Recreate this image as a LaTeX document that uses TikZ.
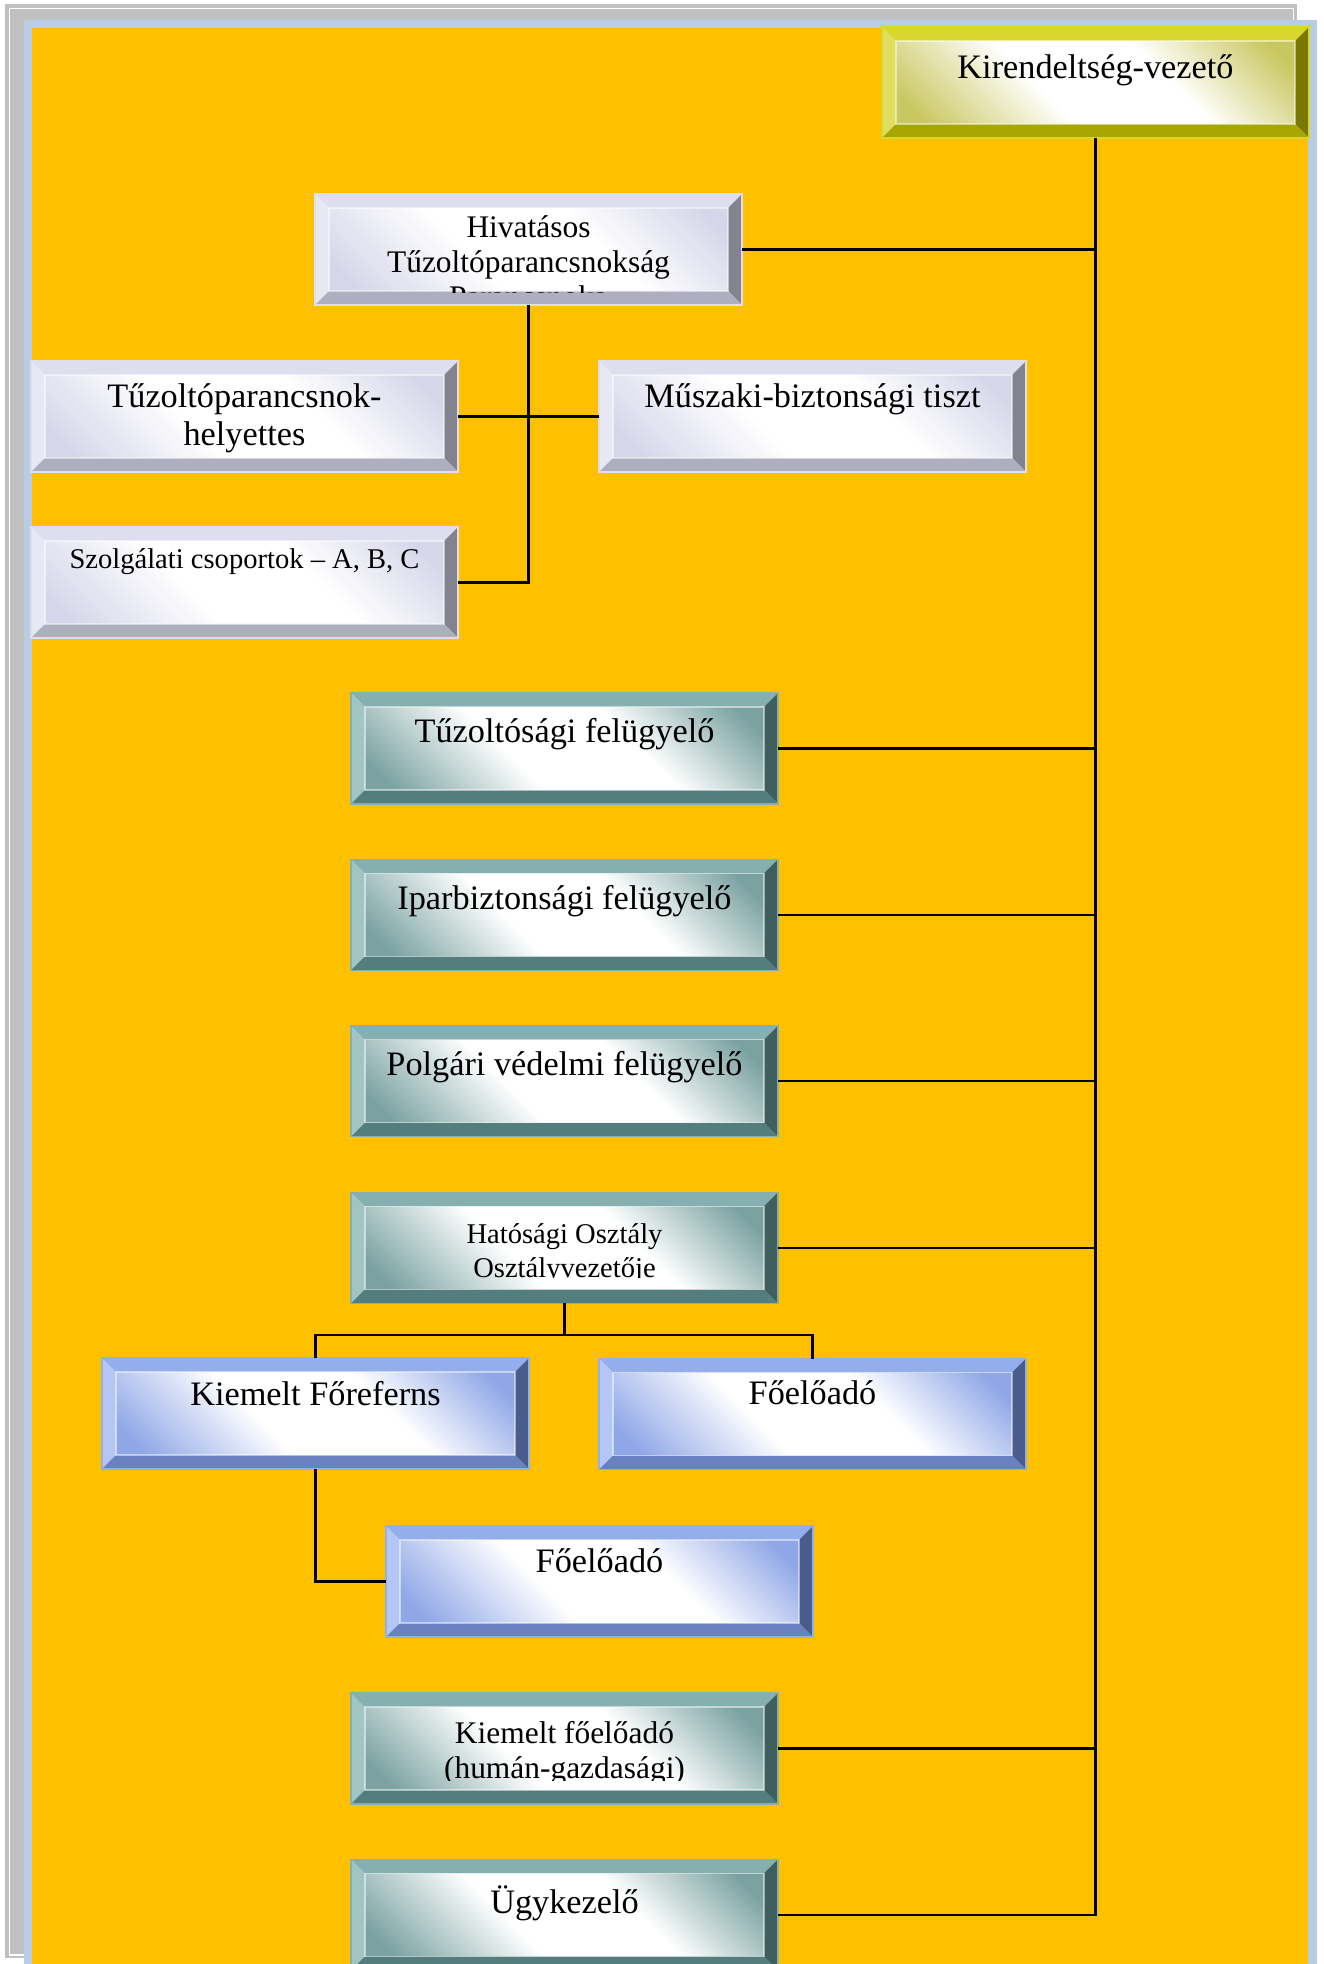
\documentclass[tikz,border=0pt]{standalone}
\usepackage{fontspec}
\setmainfont{Liberation Serif}
\usepackage{tikz}
\usetikzlibrary{positioning,calc}
\definecolor{framegray}{RGB}{192,192,192}
\definecolor{frameblue}{RGB}{184,204,228}
\definecolor{sheet}{RGB}{255,192,0}
\definecolor{olitop}{RGB}{217,215,46}
\definecolor{olileft}{RGB}{223,222,96}
\definecolor{oliright}{RGB}{122,120,0}
\definecolor{olibot}{RGB}{167,165,0}
\definecolor{oliface}{RGB}{201,199,96}
\definecolor{lavtop}{RGB}{222,222,238}
\definecolor{lavleft}{RGB}{232,232,244}
\definecolor{lavright}{RGB}{131,131,143}
\definecolor{lavbot}{RGB}{174,174,192}
\definecolor{lavface}{RGB}{214,214,234}
\definecolor{tealtop}{RGB}{133,176,175}
\definecolor{tealleft}{RGB}{162,197,196}
\definecolor{tealright}{RGB}{63,95,94}
\definecolor{tealbot}{RGB}{84,126,125}
\definecolor{tealface}{RGB}{122,162,161}
\definecolor{blutop}{RGB}{148,173,235}
\definecolor{bluleft}{RGB}{179,198,244}
\definecolor{bluright}{RGB}{74,92,140}
\definecolor{blubot}{RGB}{107,128,192}
\definecolor{bluface}{RGB}{143,167,231}
\pgfdeclarehorizontalshading{oligrad}{100bp}{color(0bp)=(oliface); color(22bp)=(oliface); color(42bp)=(white); color(60bp)=(white); color(78bp)=(oliface); color(100bp)=(oliface)}
\pgfdeclarehorizontalshading{lavgrad}{100bp}{color(0bp)=(lavface); color(22bp)=(lavface); color(42bp)=(white); color(60bp)=(white); color(78bp)=(lavface); color(100bp)=(lavface)}
\pgfdeclarehorizontalshading{tealgrad}{100bp}{color(0bp)=(tealface); color(22bp)=(tealface); color(42bp)=(white); color(60bp)=(white); color(78bp)=(tealface); color(100bp)=(tealface)}
\pgfdeclarehorizontalshading{blugrad}{100bp}{color(0bp)=(bluface); color(22bp)=(bluface); color(42bp)=(white); color(60bp)=(white); color(78bp)=(bluface); color(100bp)=(bluface)}
\newcommand{\bevw}{4.9pt}

\begin{document}
\begin{tikzpicture}[
    x=0.35pt, y=-0.35pt,
    node distance=19.4pt,
    bevel/.style n args={5}{rectangle, inner sep=0pt, outer sep=0pt,
      minimum width=149.45pt, minimum height=38.85pt, draw=#1, line width=0.4pt,
      shade, shading=#5, shading angle=45,
      path picture={
        \coordinate (NW) at (path picture bounding box.north west);
        \coordinate (NE) at (path picture bounding box.north east);
        \coordinate (SW) at (path picture bounding box.south west);
        \coordinate (SE) at (path picture bounding box.south east);
        \coordinate (nw) at ([xshift=\bevw, yshift=-\bevw]NW);
        \coordinate (ne) at ([xshift=-\bevw, yshift=-\bevw]NE);
        \coordinate (sw) at ([xshift=\bevw, yshift=\bevw]SW);
        \coordinate (se) at ([xshift=-\bevw, yshift=\bevw]SE);
        \fill[#1] (NW) -- (NE) -- (ne) -- (nw) -- cycle;
        \fill[#2] (NW) -- (nw) -- (sw) -- (SW) -- cycle;
        \fill[#3] (NE) -- (SE) -- (se) -- (ne) -- cycle;
        \fill[#4] (SW) -- (sw) -- (se) -- (SE) -- cycle;
        \draw[white, opacity=0.5] (nw) rectangle (se);
      }},
    olivebox/.style={bevel={olitop}{olileft}{oliright}{olibot}{oligrad}},
    lavbox/.style={bevel={lavtop}{lavleft}{lavright}{lavbot}{lavgrad}},
    tealbox/.style={bevel={tealtop}{tealleft}{tealright}{tealbot}{tealgrad}},
    bluebox/.style={bevel={blutop}{bluleft}{bluright}{blubot}{blugrad}},
    lbl/.style={inner sep=0pt, align=center, font=\fontsize{12}{13.3}\selectfont},
    lblsm/.style={lbl, font=\fontsize{11}{12.25}\selectfont},
    lblxs/.style={lbl, font=\fontsize{10}{11.9}\selectfont},
    link/.style={draw=black, line width=0.75pt}
]
    % page background
    \fill[white] (0,0) rectangle (1323,1964);
    \useasboundingbox (0,0) rectangle (1323,1964);
    \fill[framegray] (5,4) rectangle (1297,1958);
    \draw[white, line width=0.4pt] (9.5,8.5) rectangle (1293.5,1955);
    \fill[frameblue] (24,20) rectangle (1317,1964);
    \fill[sheet] (32,28) rectangle (1308,1964);

    % boxes
    \node[olivebox] (kir) at (1095.5,82.5) {};
    \node[lavbox] (hiv) at (528.5,249.5) {};
    \node[lavbox] (helyt) at (244.5,416.5) {};
    \node[lavbox] (musz) at (812.5,416.5) {};
    \node[lavbox] (szolg) at (244.5,582.5) {};
    \node[tealbox] (tfel) at (564.5,748.5) {};
    \node[tealbox, below=of tfel] (ipar) {};
    \node[tealbox, below=of ipar] (polg) {};
    \node[tealbox, below=of polg] (hat) {};
    \node[bluebox] (kfr) at (315.5,1413.5) {};
    \node[bluebox] (foe1) at (812.5,1414) {};
    \node[bluebox] (foe2) at (599.5,1581.5) {};
    \node[tealbox] (kfoe) at (564.5,1748.5) {};
    \node[tealbox, below=of kfoe] (ugy) {};

    % texts
    \node[lbl, below=9.45pt of kir.north] (kir-t) {Kirendeltség-vezető};
    \begin{scope}
        \clip (hiv.north west) rectangle ([yshift=4.2pt]hiv.south east);
        \node[lblsm, below=7.35pt of hiv.north] (hiv-t) {Hivatásos\\Tűzoltóparancsnokság\\Parancsnoka};
    \end{scope}
    \node[lbl, below=7.7pt of helyt.north] (helyt-t) {Tűzoltóparancsnok-\\helyettes};
    \node[lbl, below=7.7pt of musz.north] (musz-t) {Műszaki-biztonsági tiszt};
    \node[lblxs, below=7.35pt of szolg.north] (szolg-t) {Szolgálati csoportok – A, B, C};
    \node[lbl, below=8.75pt of tfel.north] (tfel-t) {Tűzoltósági felügyelő};
    \node[lbl, below=8.75pt of ipar.north] (ipar-t) {Iparbiztonsági felügyelő};
    \node[lbl, below=8.75pt of polg.north] (polg-t) {Polgári védelmi felügyelő};
    \begin{scope}
        \clip (hat.north west) rectangle ([yshift=9.1pt]hat.south east);
        \node[lblxs, below=10.85pt of hat.north] (hat-t) {Hatósági Osztály\\Osztályvezetője};
    \end{scope}
    \node[lbl, below=8.05pt of kfr.north] (kfr-t) {Kiemelt Főreferns};
    \node[lbl, below=7.7pt of foe1.north] (foe1-t) {Főelőadó};
    \node[lbl, below=7.7pt of foe2.north] (foe2-t) {Főelőadó};
    \begin{scope}
        \clip (kfoe.north west) rectangle ([yshift=8.4pt]kfoe.south east);
        \node[lblsm, below=9.8pt of kfoe.north] (kfoe-t) {Kiemelt főelőadó\\(humán-gazdasági)};
    \end{scope}
    \node[lbl, below=8.9pt of ugy.north] (ugy-t) {Ügykezelő};

    % connectors
    \draw[link] (kir.south) |- (ugy.east);
    \foreach \n in {hiv,tfel,ipar,polg,hat,kfoe}
        \draw[link] (\n.east) -- (\n.east -| kir.south);
    \draw[link] (hiv.south) |- (szolg.east);
    \draw[link] (helyt.east) -- (musz.west);
    \draw[link] (hat.south) -- ++(0,32) -| (kfr.north);
    \draw[link] (hat.south) ++(0,32) -| (foe1.north);
    \draw[link] (kfr.south) |- (foe2.west);
\end{tikzpicture}
\end{document}
